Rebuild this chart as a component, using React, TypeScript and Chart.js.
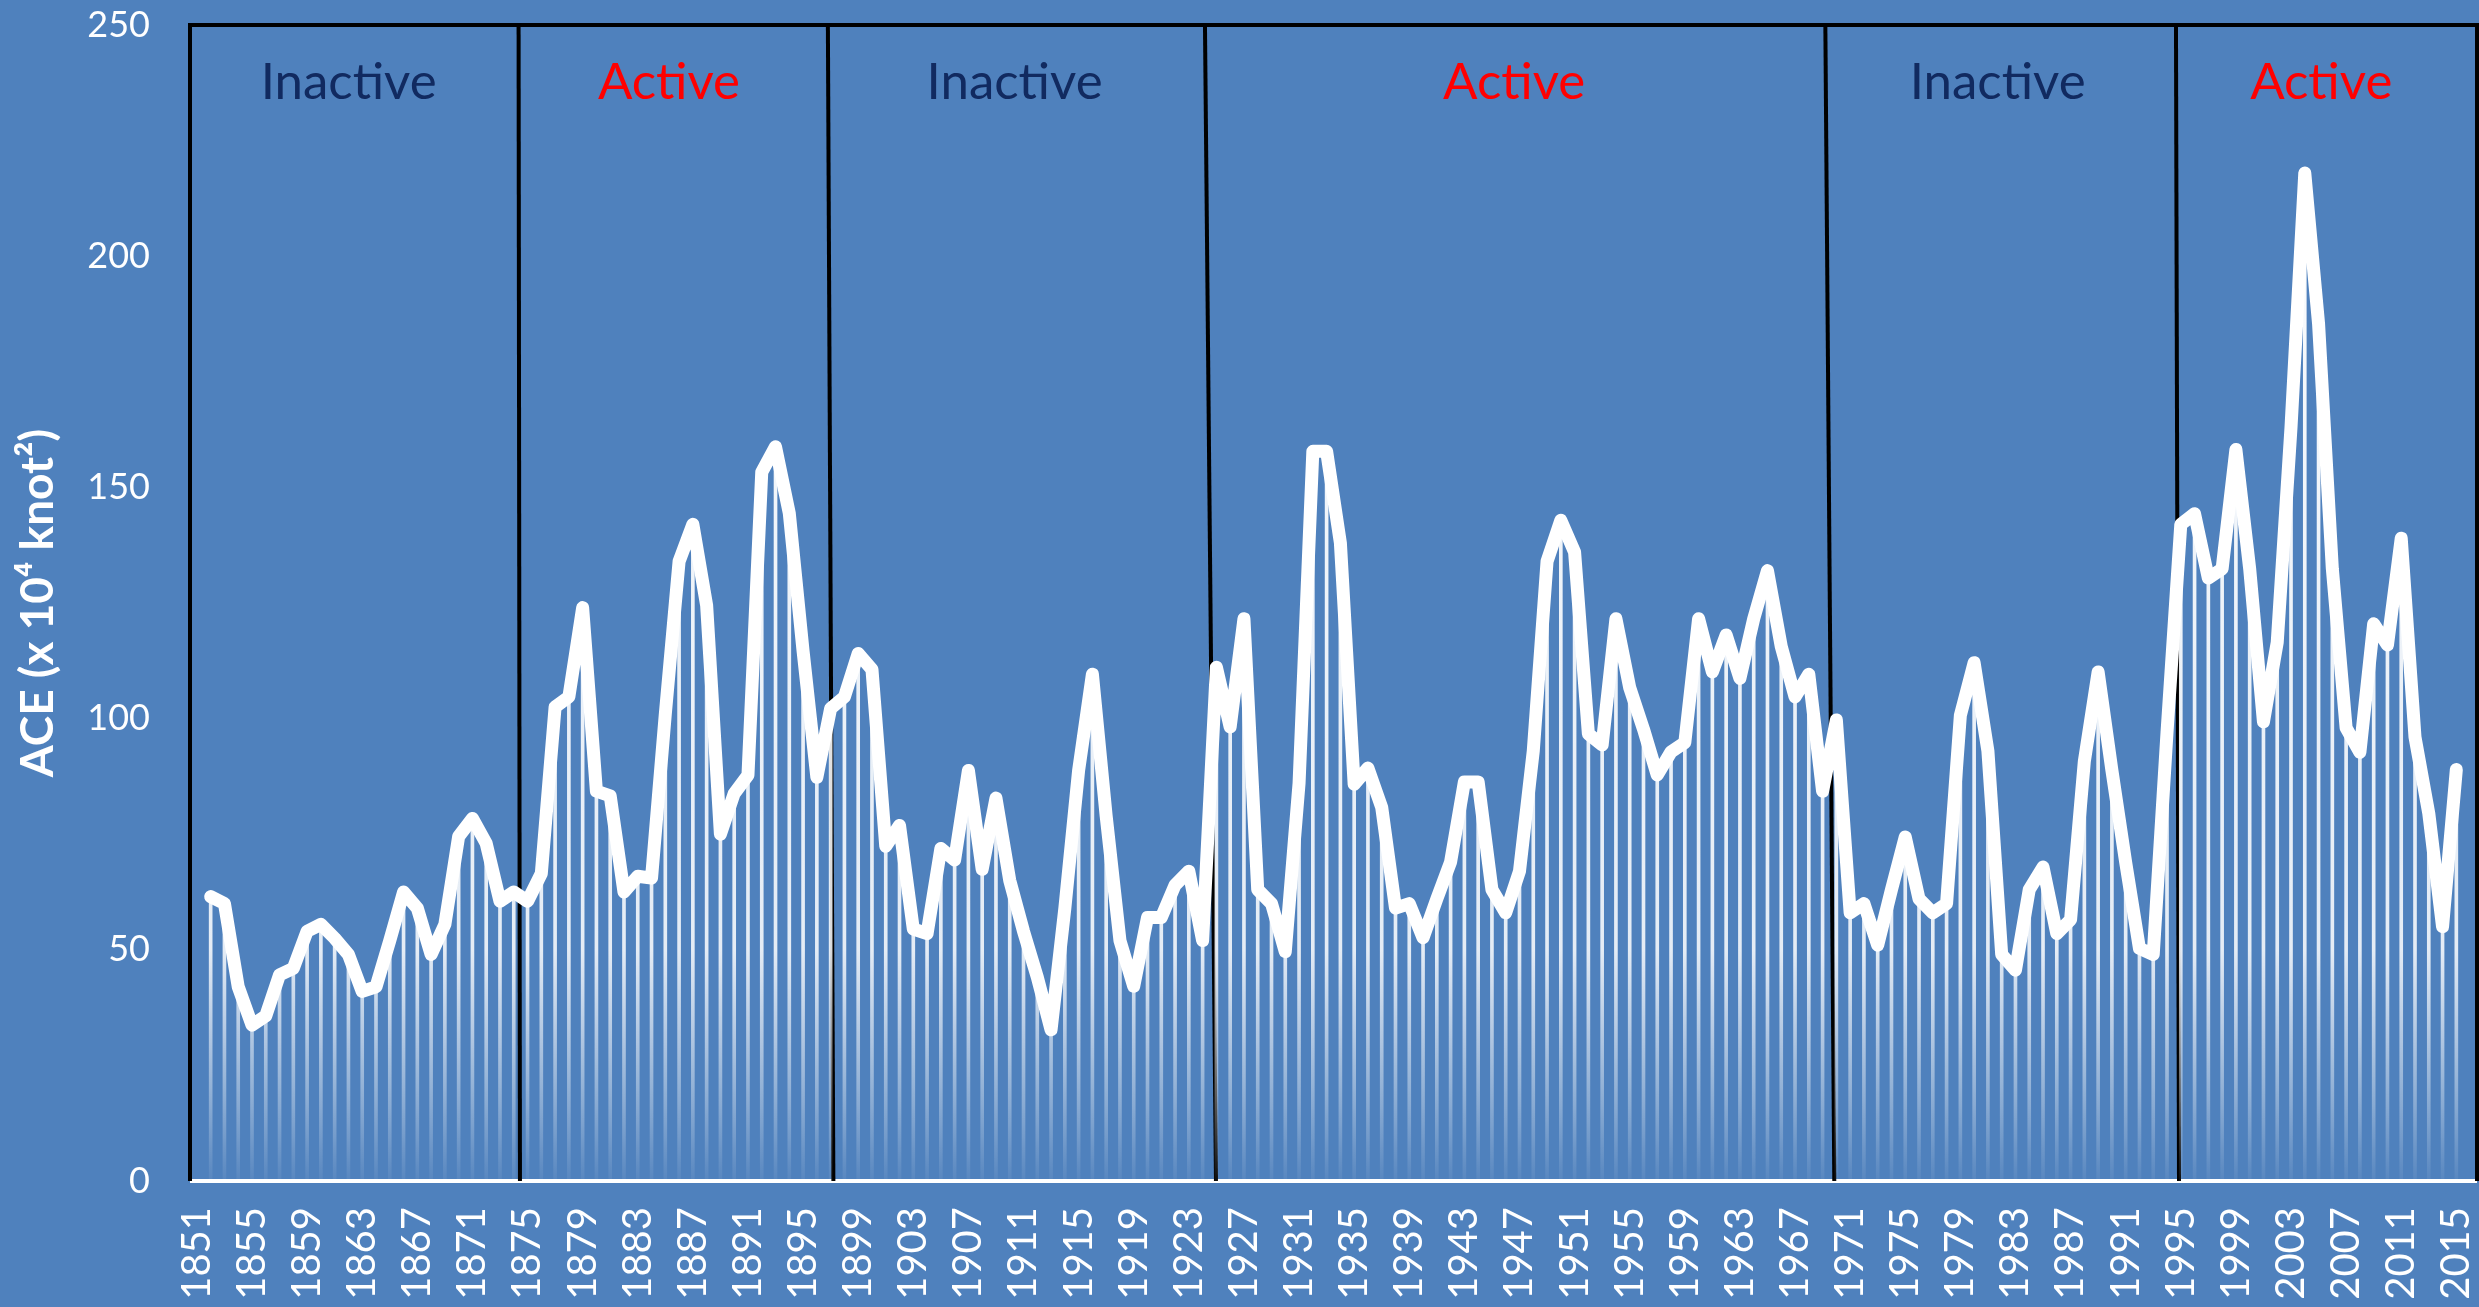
import React, { useEffect, useRef } from "react";
import { Chart, registerables } from "chart.js";

Chart.register(...registerables);

// Categories: 1851 .. 2016 (the 3-year centred mean has no value at either end)
const firstYear = 1851;
const lastYear = 2016;
const years: string[] = Array.from({ length: lastYear - firstYear + 1 }, (_, i) => String(firstYear + i));

// ACE values (x 10^4 knot^2), 1852 .. 2015
const aceValues: number[] = [
  61.5, 60, 42, 33.7, 35.7, 44.6, 46, 54, 55.5, 52.5, // 1852-1861
  49, 41, 42, 52, 62.5, 59, 49, 55.5, 74.5, 78.4, // 1862-1871
  73, 60.5, 62.5, 60.5, 66.5, 102.5, 104.7, 124, 84.3, 83.3, // 1872-1881
  62.5, 65.9, 65.5, 101, 134, 142, 124.5, 75, 83.8, 87.8, // 1882-1891
  153.3, 158.8, 144.4, 114.6, 87.3, 102.2, 104.7, 114.1, 110.6, 72.4, // 1892-1901
  76.9, 54.5, 53.5, 71.9, 69.4, 88.8, 67.4, 82.8, 65, 54, // 1902-1911
  44.1, 32.7, 59, 88.8, 109.6, 78.9, 52, 42.1, 57, 57, // 1912-1921
  64, 67, 52, 111.1, 98.2, 121.6, 63, 60, 49.6, 86, // 1922-1931
  157.8, 157.8, 138, 85.8, 89.3, 80.8, 59, 60, 52.6, 61, // 1932-1941
  69, 86.3, 86.3, 63, 58, 67, 93, 134, 142.9, 136, // 1942-1951
  96.7, 94.3, 121.6, 106.7, 97.7, 87.8, 92.8, 94.8, 121.6, 110.1, // 1952-1961
  118.1, 108.7, 121.6, 132, 115.6, 104.7, 109.6, 84.3, 99.7, 58, // 1962-1971
  60, 51, 63, 74.4, 61, 58, 60, 100.7, 112.1, 93, // 1972-1981
  49, 45.6, 63, 67.9, 53.5, 56.5, 90.8, 110.1, 88.8, 68.9, // 1982-1991
  50.3, 49, 97, 142, 144.3, 130.4, 132.4, 158.2, 132.4, 99.3, // 1992-2001
  116.5, 163, 218, 185.4, 132.4, 98, 92.7, 120.5, 115.9, 139, // 2002-2011
  96, 79.5, 55, 89, // 2012-2015
];

const series: (number | null)[] = [null, ...aceValues, null];

// Period boundaries (fractional years, at top and bottom of the plot)
const dividerTop: number[] = [1874.35, 1896.8, 1924.17, 1969.2, 1994.65];
const dividerBottom: number[] = [1874.45, 1897.2, 1924.97, 1969.85, 1994.87];
const periodNames: string[] = ["Inactive", "Active", "Inactive", "Active", "Inactive", "Active"];

const yTicks: number[] = [0, 50, 100, 150, 200, 250];

const BG = "#4F81BD";
const INACTIVE_COLOR = "#112A60";
const ACTIVE_COLOR = "#FF0000";

const periodPlugin = {
  id: "periods",
  beforeDatasetsDraw(chart: any) {
    const { ctx, chartArea: a, scales } = chart;
    const x = scales.x;
    ctx.save();
    // white x-axis line
    ctx.strokeStyle = "#FFFFFF";
    ctx.lineWidth = 4;
    ctx.beginPath();
    ctx.moveTo(a.left, a.bottom);
    ctx.lineTo(a.right, a.bottom);
    ctx.stroke();
    // black frame (top, left, right)
    ctx.strokeStyle = "#000000";
    ctx.lineWidth = 4;
    ctx.beginPath();
    ctx.moveTo(a.left, a.bottom);
    ctx.lineTo(a.left, a.top);
    ctx.lineTo(a.right, a.top);
    ctx.lineTo(a.right, a.bottom);
    ctx.stroke();
    // dividers
    dividerTop.forEach((yt, k) => {
      const xt = x.getPixelForValue(yt - firstYear);
      const xb = x.getPixelForValue(dividerBottom[k] - firstYear);
      ctx.beginPath();
      ctx.moveTo(xt, a.top);
      ctx.lineTo(xb, a.bottom);
      ctx.stroke();
    });
    ctx.restore();
  },
  afterDatasetsDraw(chart: any) {
    const { ctx, chartArea: a, scales } = chart;
    const x = scales.x;
    const bounds = [a.left];
    dividerTop.forEach((yt, k) => {
      const xt = x.getPixelForValue(yt - firstYear);
      const xb = x.getPixelForValue(dividerBottom[k] - firstYear);
      bounds.push((xt + xb) / 2);
    });
    bounds.push(a.right);
    ctx.save();
    ctx.font = "51px Lato";
    ctx.textAlign = "center";
    ctx.textBaseline = "middle";
    periodNames.forEach((name, k) => {
      ctx.fillStyle = name === "Active" ? ACTIVE_COLOR : INACTIVE_COLOR;
      ctx.fillText(name, (bounds[k] + bounds[k + 1]) / 2 - 6, a.top + 58);
    });
    ctx.restore();
  },
};

export default function App() {
  const ref = useRef<HTMLCanvasElement>(null);

  useEffect(() => {
    document.body.style.margin = "0";
    const canvas = ref.current!;
    const chart = new Chart(canvas, {
      type: "bar",
      data: {
        labels: years,
        datasets: [
          {
            type: "line",
            label: "ACE",
            data: series,
            borderColor: "#FFFFFF",
            borderWidth: 13,
            pointRadius: 0,
            pointHoverRadius: 0,
            tension: 0,
            borderJoinStyle: "round",
            borderCapStyle: "round",
            order: 0,
          } as any,
          {
            type: "bar",
            label: "bars",
            data: series,
            barThickness: 3,
            borderWidth: 0,
            order: 1,
            backgroundColor: (c: any) => {
              const chartRef = c.chart;
              const a = chartRef.chartArea;
              if (!a) return "rgba(255,255,255,0.8)";
              const g = chartRef.ctx.createLinearGradient(0, a.top, 0, a.bottom);
              g.addColorStop(0, "rgba(255,255,255,1)");
              g.addColorStop(0.8, "rgba(255,255,255,0.85)");
              g.addColorStop(0.93, "rgba(255,255,255,0.35)");
              g.addColorStop(1, "rgba(255,255,255,0.05)");
              return g;
            },
          } as any,
        ],
      },
      options: {
        responsive: false,
        maintainAspectRatio: false,
        devicePixelRatio: 1,
        animation: false,
        layout: { padding: { top: 25, right: 2, bottom: 0, left: 0 } },
        plugins: {
          legend: { display: false },
          tooltip: { enabled: false },
        },
        scales: {
          x: {
            type: "category",
            offset: true,
            grid: { display: false, drawTicks: false },
            border: { display: false },
            ticks: {
              autoSkip: false,
              minRotation: 90,
              maxRotation: 90,
              padding: 26,
              color: "#FFFFFF",
              font: { family: "Lato", size: 40 },
              callback: (_v: any, index: number) => (index % 4 === 0 ? years[index] : ""),
            },
            afterFit: (s: any) => {
              s.height = 126;
              s.paddingLeft = 0;
              s.paddingRight = 0;
            },
          },
          y: {
            min: 0,
            max: 250,
            grid: { display: false, drawTicks: false },
            border: { display: false },
            afterBuildTicks: (s: any) => {
              s.ticks = yTicks.map((v) => ({ value: v }));
            },
            ticks: {
              padding: 40,
              color: "#FFFFFF",
              font: { family: "Lato", size: 36 },
            },
            title: {
              display: true,
              text: "ACE (x 10⁴ knot²)",
              color: "#FFFFFF",
              font: { family: "Lato", size: 46, weight: "bold" },
              padding: { top: 11, bottom: 0 },
            },
            afterFit: (s: any) => {
              s.width = 190;
              s.paddingTop = 0;
              s.paddingBottom = 0;
            },
          },
        },
      },
      plugins: [periodPlugin],
    } as any);
    return () => chart.destroy();
  }, []);

  return (
    <div style={{ position: "absolute", left: 0, top: 0, width: 2479, height: 1307, background: BG }}>
      <canvas ref={ref} width={2479} height={1307} style={{ display: "block", width: 2479, height: 1307 }} />
    </div>
  );
}
